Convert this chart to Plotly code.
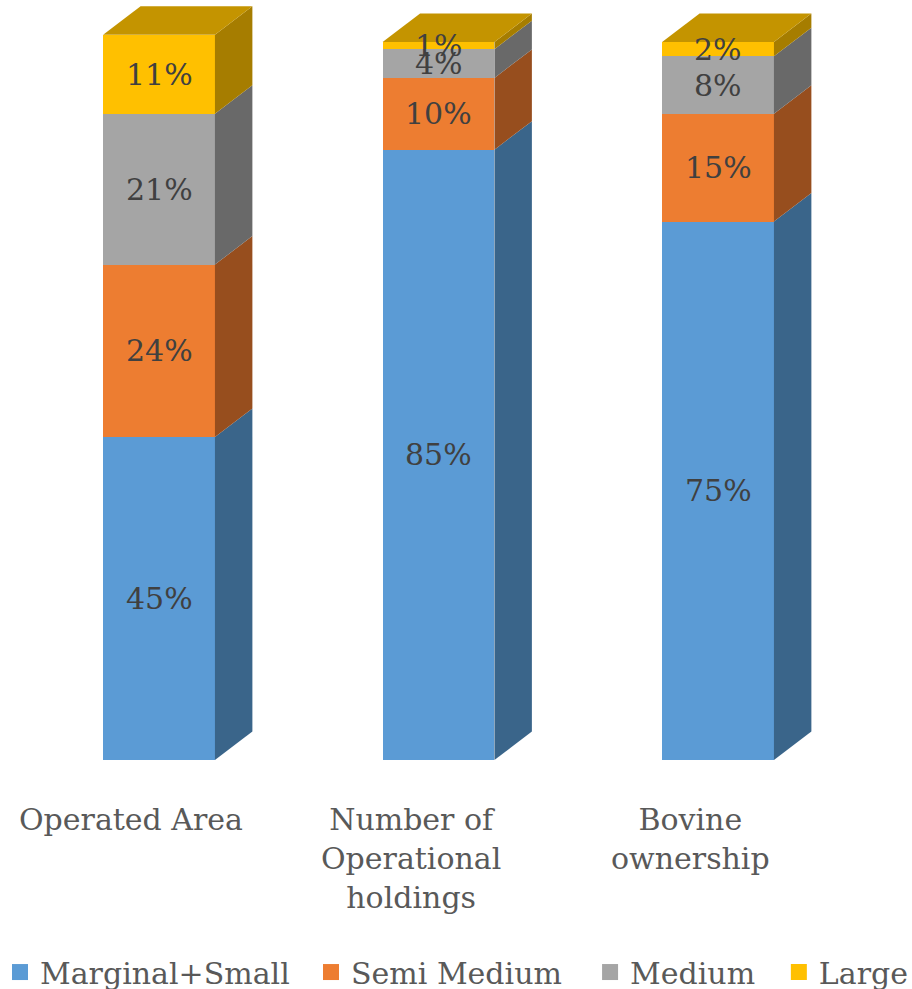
import plotly.graph_objects as go

categories = ["Operated Area", "Number of<br>Operational<br>holdings", "Bovine<br>ownership"]
series_names = ["Marginal+Small", "Semi Medium", "Medium", "Large"]
marginal_small = [45, 85, 75]
semi_medium = [24, 10, 15]
medium = [21, 4, 8]
large = [11, 1, 2]
series_values = [marginal_small, semi_medium, medium, large]

front_colors = ["#5B9BD5", "#ED7D31", "#A5A5A5", "#FFC000"]
side_colors = ["#3A658A", "#974E1E", "#696969", "#A67D00"]
top_color = "#C49400"

FONT = "DejaVu Serif"
BAR_W = 0.4
DX = 0.134   # depth offset in x units
DY = 3.97    # depth offset in y units
LEGEND_X = [0.0, 0.341, 0.647, 0.854]

xs = list(range(len(categories)))
fig = go.Figure()

# front faces
for name, vals, col in zip(series_names, series_values, front_colors):
    fig.add_trace(go.Bar(x=xs, y=vals, name=name, width=BAR_W,
                         marker=dict(color=col, line=dict(width=0)),
                         showlegend=False, hoverinfo="skip"))

# side faces and top faces, computed from the stacked data
for i, x in enumerate(xs):
    base = 0
    for s, vals in enumerate(series_values):
        v = vals[i]
        y0, y1 = base, base + v
        xr = x + BAR_W / 2
        fig.add_trace(go.Scatter(
            x=[xr, xr + DX, xr + DX, xr, xr],
            y=[y0, y0 + DY, y1 + DY, y1, y0],
            fill="toself", fillcolor=side_colors[s], mode="lines",
            line=dict(width=0, color=side_colors[s]), showlegend=False, hoverinfo="skip"))
        # data label
        fig.add_annotation(x=x, y=(y0 + y1) / 2, text=f"{v}%", showarrow=False,
                           font=dict(family=FONT, size=30, color="#404040"))
        base = y1
    xl = x - BAR_W / 2
    xr = x + BAR_W / 2
    fig.add_trace(go.Scatter(
        x=[xl, xl + DX, xr + DX, xr, xl],
        y=[base, base + DY, base + DY, base, base],
        fill="toself", fillcolor=top_color, mode="lines",
        line=dict(width=0, color=top_color), showlegend=False, hoverinfo="skip"))

# category labels
for x, c in zip(xs, categories):
    fig.add_annotation(x=x - 0.1, y=0, yref="paper", yanchor="top", yshift=-40,
                       text=c, showarrow=False,
                       font=dict(family=FONT, size=30, color="#595959"))

# legend entries, one legend per entry for Excel-like spacing
legend_layouts = {}
for k, (name, col) in enumerate(zip(series_names, front_colors)):
    lname = "legend" if k == 0 else f"legend{k + 1}"
    fig.add_trace(go.Scatter(x=[None], y=[None], mode="markers", name=name,
                             legend=lname,
                             marker=dict(symbol="square", size=16, color=col)))
    legend_layouts[lname] = dict(orientation="h", x=LEGEND_X[k], xanchor="left",
                                 y=-0.279, yanchor="middle",
                                 bgcolor="rgba(0,0,0,0)",
                                 font=dict(family=FONT, size=30, color="#595959"))

fig.update_layout(
    width=912, height=989,
    margin=dict(l=0, r=0, t=0, b=229, autoexpand=False),
    paper_bgcolor="white", plot_bgcolor="white",
    barmode="stack", bargap=0,
    xaxis=dict(range=[-0.569, 2.694], visible=False, fixedrange=True),
    yaxis=dict(range=[0, 105.85], visible=False, fixedrange=True),
    showlegend=True,
    **legend_layouts,
)

fig.write_html("out.html")
